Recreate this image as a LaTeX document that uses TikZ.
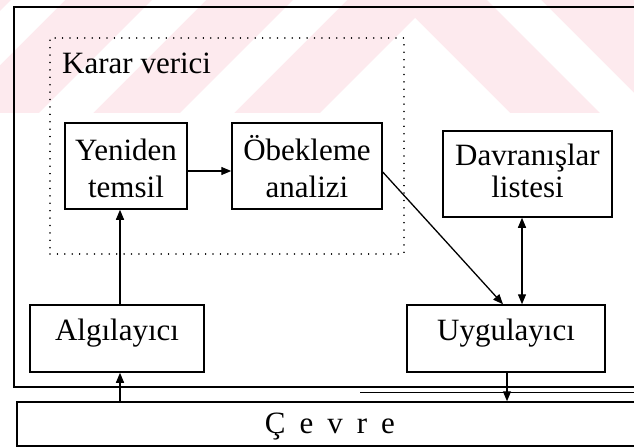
\documentclass[tikz,border=0pt]{standalone}
\usepackage{fontspec}
\setmainfont{Liberation Serif}
\usetikzlibrary{arrows.meta}
\definecolor{wmpink}{RGB}{253,234,238}
\begin{document}
\begin{tikzpicture}[x=1pt,y=-1pt,
  lbl/.style={font=\fontsize{31}{37}\selectfont, inner sep=0pt, anchor=base},
  blk/.style={draw, line width=1.5pt, inner sep=0pt},
  tip/.tip={Triangle[length=10pt,width=8pt]},
  arr/.style={line width=1.3pt, -tip},
  darr/.style={line width=1.3pt, tip-tip},
  dots/.style={draw, line width=1.6pt, line cap=round, dash pattern=on 0.01pt off 7.4pt, inner sep=0pt}]
\useasboundingbox (0,0) rectangle (634,447);

% faint chevron pattern in the top band
\begin{scope}
  \clip (0,0) rectangle (634,113);
  \fill[wmpink] (0,0) rectangle (634,113);
  \fill[white] (415,18) -- (510,113) -- (320,113) -- cycle;
  \begin{scope}
    \clip (0,0) rectangle (415,113);
    \foreach \s in {180,39,-102}
      \fill[white] (\s,113) -- (\s+54,113) -- (\s+167,0) -- (\s+113,0) -- cycle;
  \end{scope}
  \begin{scope}
    \clip (415,0) rectangle (634,113);
    \fill[white] (600,113) -- (654,113) -- (541,0) -- (487,0) -- cycle;
  \end{scope}
\end{scope}

% agent frame and environment strip (open to the right)
\node[draw, line width=2pt, minimum width=646pt, minimum height=380pt, inner sep=0pt] (ajan) at (337,197) {};
\draw[line width=0.9pt] (360,392.5) -- (640,392.5);
\node[blk, minimum width=643pt, minimum height=44pt] (cevre) at (338.5,424) {};
\node[lbl] (tcevre) at (330,433) {Ç\hspace{14pt}e\hspace{14pt}v\hspace{14pt}r\hspace{14pt}e};

% decision maker
\node[dots, minimum width=354pt, minimum height=216pt] (karar) at (227,146) {};
\node[lbl, anchor=base west] (tkarar) at (62,73) {Karar verici};

% blocks
\node[blk, minimum width=122pt, minimum height=86pt] (yeniden) at (126,166) {};
\node[lbl] (tyen1) at (126,160) {Yeniden};
\node[lbl] (tyen2) at (126,197) {temsil};

\node[blk, minimum width=150pt, minimum height=86pt] (obek) at (307,166) {};
\node[lbl] (tobe1) at (307,160) {Öbekleme};
\node[lbl] (tobe2) at (307,197) {analizi};

\node[blk, minimum width=169pt, minimum height=86pt] (davr) at (527.5,174) {};
\node[lbl] (tdav1) at (527.5,165) {Davranışlar};
\node[lbl] (tdav2) at (527.5,197) {listesi};

\node[blk, minimum width=174pt, minimum height=67pt] (algi) at (117,338.5) {};
\node[lbl] (talg) at (117,340) {Algılayıcı};

\node[blk, minimum width=198pt, minimum height=67pt] (uygu) at (506,338.5) {};
\node[lbl] (tuyg) at (506,340) {Uygulayıcı};

% connector columns and rows
\coordinate (cx1) at (120,0);
\coordinate (cy1) at (0,171);
\coordinate (cy2) at (0,172);
\coordinate (cx3) at (503,0);
\coordinate (cx4) at (522,0);
\coordinate (cx5) at (507,0);

\draw[arr] (cx1 |- cevre.north) -- (cx1 |- algi.south);
\draw[arr] (cx1 |- algi.north) -- (cx1 |- yeniden.south);
\draw[arr] (yeniden.east |- cy1) -- (obek.west |- cy1);
\draw[arr] (obek.east |- cy2) -- (cx3 |- uygu.north);
\draw[darr] (cx4 |- davr.south) -- (cx4 |- uygu.north);
\draw[arr] (cx5 |- uygu.south) -- (cx5 |- cevre.north);
\end{tikzpicture}
\end{document}
